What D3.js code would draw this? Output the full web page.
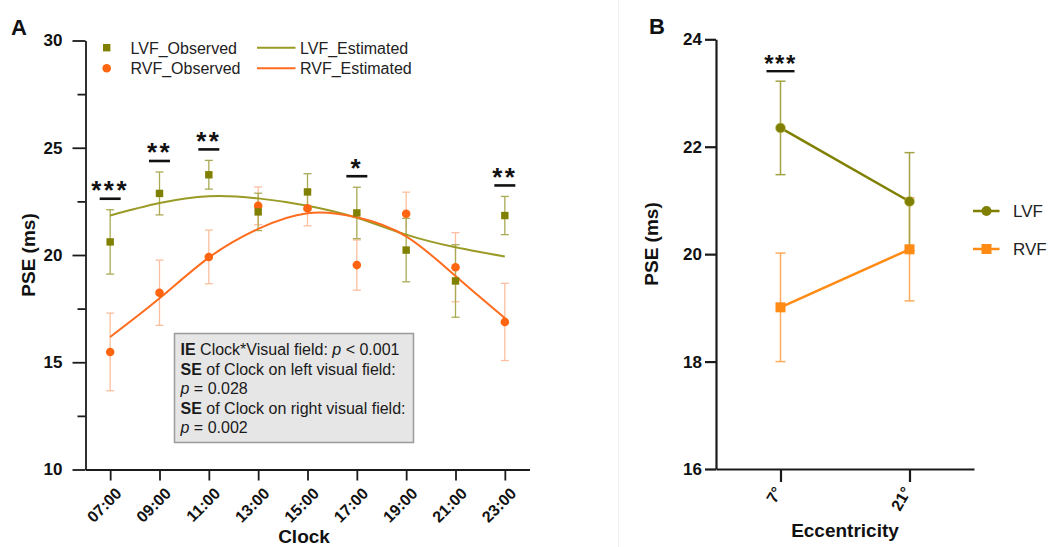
<!DOCTYPE html>
<html>
<head>
<meta charset="utf-8">
<script src="https://cdn.jsdelivr.net/npm/d3@7"></script>
<style>
  html, body { margin: 0; padding: 0; background: #fff; }
  svg { display: block; font-family: "Liberation Sans", Arial, sans-serif; }
</style>
</head>
<body>
<svg id="chart" width="1050" height="547"></svg>
<script>
// ---- Panel A: PSE by clock time ----
const clockLabels = ["07:00", "09:00", "11:00", "13:00", "15:00", "17:00", "19:00", "21:00", "23:00"];
const clockHours = [7, 9, 11, 13, 15, 17, 19, 21, 23];
const lvfObserved = [20.61, 22.87, 23.74, 22.01, 22.94, 21.96, 20.23, 18.79, 21.84];
const lvfObservedSE = [1.50, 1.00, 0.67, 0.87, 0.85, 1.20, 1.48, 1.69, 0.89];
const rvfObserved = [15.48, 18.24, 19.91, 22.29, 22.18, 19.53, 21.92, 19.43, 16.88];
const rvfObservedSE = [1.81, 1.52, 1.25, 0.88, 0.82, 1.17, 1.01, 1.61, 1.80];
const lvfEstimated = [21.84, 22.42, 22.74, 22.64, 22.30, 21.74, 20.95, 20.36, 19.93];
const rvfEstimated = [16.18, 17.98, 19.88, 21.22, 21.95, 21.76, 20.87, 19.02, 17.06];
const clockSignificance = ["***", "**", "**", "", "", "*", "", "", "**"];
const clockMajorTicks = [10, 15, 20, 25, 30];
const clockMinorTicks = [12.5, 17.5, 22.5, 27.5];
const statLines = [
  [["IE", "b"], [" Clock*Visual field: ", ""], ["p", "i"], [" < 0.001", ""]],
  [["SE", "b"], [" of Clock on left visual field:", ""]],
  [["p", "i"], [" = 0.028", ""]],
  [["SE", "b"], [" of Clock on right visual field:", ""]],
  [["p", "i"], [" = 0.002", ""]]
];

// ---- Panel B: PSE by eccentricity ----
const eccLabels = ["7°", "21°"];
const lvfEcc = [22.35, 20.98];
const lvfEccSE = [0.87, 0.91];
const rvfEcc = [19.01, 20.09];
const rvfEccSE = [1.01, 0.96];
const eccSignificance = ["***", ""];
const eccTicks = [16, 18, 20, 22, 24];

const C = {
  olive: "#7f7f00",
  oliveLine: "#9a9a26",
  oliveErr: "#aaaa55",
  orange: "#ff6510",
  orangeLine: "#ff6c1e",
  orangeErr: "#fcbf9f",
  bOrange: "#ff8a14",
  bOrangeErr: "#ffab5c",
  bOliveErr: "#a3a345",
  axis: "#1a1a1a"
};

const svg = d3.select("#chart");

// faint panel divider
svg.append("line").attr("x1", 618.5).attr("x2", 618.5).attr("y1", 0).attr("y2", 547)
  .attr("stroke", "#f1f1f1").attr("stroke-width", 1);

// =================== Panel A ===================
const ax = d3.scaleLinear().domain([6, 24]).range([85.5, 529.5]);
const ay = d3.scaleLinear().domain([10, 30]).range([469.5, 40.5]);
const gA = svg.append("g");

function styleAxis(g, width) {
  g.attr("font-family", null).attr("font-size", null);
  g.selectAll("path.domain").attr("stroke", C.axis).attr("stroke-width", width);
  g.selectAll(".tick line").attr("stroke", C.axis).attr("stroke-width", width);
}

const yAxisA = gA.append("g").attr("transform", `translate(${ax.range()[0]},0)`)
  .call(d3.axisLeft(ay).tickValues(clockMajorTicks).tickSize(13).tickSizeOuter(0).tickPadding(10).tickFormat(d3.format("d")));
styleAxis(yAxisA, 1.8);
yAxisA.selectAll("text").attr("font-size", 17).attr("font-weight", "bold").attr("fill", "#111");

const yMinorA = gA.append("g").attr("transform", `translate(${ax.range()[0]},0)`)
  .call(d3.axisLeft(ay).tickValues(clockMinorTicks).tickSize(8).tickSizeOuter(0).tickFormat(""));
yMinorA.select("path.domain").remove();
styleAxis(yMinorA, 1.8);

const xAxisA = gA.append("g").attr("transform", `translate(0,${ay.range()[0]})`)
  .call(d3.axisBottom(ax).tickValues(clockHours).tickSize(11).tickSizeOuter(0)
    .tickFormat((d, i) => clockLabels[i]));
styleAxis(xAxisA, 1.8);
xAxisA.selectAll("text")
  .attr("font-size", 16).attr("font-weight", "bold").attr("fill", "#111")
  .attr("text-anchor", "end").attr("dy", null).attr("y", null)
  .attr("transform", "translate(12,25) rotate(-45)");

gA.append("text").attr("x", 304).attr("y", 543).attr("text-anchor", "middle")
  .attr("font-size", 19).attr("font-weight", "bold").attr("fill", "#111").text("Clock");
gA.append("text").attr("transform", "translate(35,255) rotate(-90)").attr("text-anchor", "middle")
  .attr("font-size", 19).attr("font-weight", "bold").attr("fill", "#111").text("PSE (ms)");
svg.append("text").attr("x", 11).attr("y", 35).attr("font-size", 22).attr("font-weight", "bold")
  .attr("fill", "#111").text("A");

// error bars
function errorBars(g, xs, means, ses, xScale, yScale, color, capW, sw) {
  const eb = g.append("g").attr("stroke", color).attr("stroke-width", sw).attr("fill", "none");
  means.forEach((m, i) => {
    const x = xScale(xs[i]);
    const y1 = yScale(m - ses[i]), y2 = yScale(m + ses[i]);
    eb.append("line").attr("x1", x).attr("x2", x).attr("y1", y1).attr("y2", y2);
    eb.append("line").attr("x1", x - capW / 2).attr("x2", x + capW / 2).attr("y1", y1).attr("y2", y1);
    eb.append("line").attr("x1", x - capW / 2).attr("x2", x + capW / 2).attr("y1", y2).attr("y2", y2);
  });
}
errorBars(gA, clockHours, rvfObserved, rvfObservedSE, ax, ay, C.orangeErr, 8, 1.3);
errorBars(gA, clockHours, lvfObserved, lvfObservedSE, ax, ay, C.oliveErr, 8, 1.3);

// fitted curves
const fitLine = d3.line().x((d, i) => ax(clockHours[i])).y(d => ay(d)).curve(d3.curveNatural);
gA.append("path").datum(lvfEstimated).attr("d", fitLine).attr("fill", "none")
  .attr("stroke", C.oliveLine).attr("stroke-width", 2);
gA.append("path").datum(rvfEstimated).attr("d", fitLine).attr("fill", "none")
  .attr("stroke", C.orangeLine).attr("stroke-width", 2);

// observed markers
gA.append("g").selectAll("circle").data(rvfObserved).join("circle")
  .attr("cx", (d, i) => ax(clockHours[i])).attr("cy", d => ay(d)).attr("r", 4.3).attr("fill", C.orange);
gA.append("g").selectAll("rect").data(lvfObserved).join("rect")
  .attr("x", (d, i) => ax(clockHours[i]) - 3.7).attr("y", d => ay(d) - 3.7)
  .attr("width", 7.4).attr("height", 7.4).attr("fill", C.olive);

// significance marks above the higher error bar
clockSignificance.forEach((s, i) => {
  if (!s) return;
  const top = Math.max(lvfObserved[i] + lvfObservedSE[i], rvfObserved[i] + rvfObservedSE[i]);
  const x = ax(clockHours[i]);
  const y = ay(top) - 11;
  gA.append("line").attr("x1", x - 10.5).attr("x2", x + 10.5).attr("y1", y).attr("y2", y)
    .attr("stroke", "#111").attr("stroke-width", 2.6);
  gA.append("text").attr("x", x).attr("y", y + 0.5).attr("text-anchor", "middle")
    .attr("font-size", 26).attr("font-weight", "bold").attr("letter-spacing", 2.5).attr("fill", "#111").text(s);
});

// legend A
const legA = gA.append("g").attr("font-size", 16).attr("fill", "#222");
legA.append("rect").attr("x", 103).attr("y", 44).attr("width", 7.4).attr("height", 7.4).attr("fill", C.olive);
legA.append("circle").attr("cx", 106.7).attr("cy", 68.3).attr("r", 4.3).attr("fill", C.orange);
legA.append("text").attr("x", 130.5).attr("y", 53.5).text("LVF_Observed");
legA.append("text").attr("x", 130.5).attr("y", 74).text("RVF_Observed");
legA.append("line").attr("x1", 257).attr("x2", 295.5).attr("y1", 47.7).attr("y2", 47.7)
  .attr("stroke", C.oliveLine).attr("stroke-width", 2);
legA.append("line").attr("x1", 257).attr("x2", 295.5).attr("y1", 68.3).attr("y2", 68.3)
  .attr("stroke", C.orangeLine).attr("stroke-width", 2);
legA.append("text").attr("x", 300).attr("y", 53.5).text("LVF_Estimated");
legA.append("text").attr("x", 300).attr("y", 74).text("RVF_Estimated");

// statistics box
const box = gA.append("g");
box.append("rect").attr("x", 174.5).attr("y", 333.5).attr("width", 239).attr("height", 109)
  .attr("fill", "#e6e6e6").attr("stroke", "#9a9a9a").attr("stroke-width", 1.5);
statLines.forEach((parts, li) => {
  const t = box.append("text").attr("x", 180.5).attr("y", 355 + li * 19.5)
    .attr("font-size", 16).attr("fill", "#1a1a1a");
  parts.forEach(([str, st]) => {
    const sp = t.append("tspan").text(str);
    if (st === "b") sp.attr("font-weight", "bold");
    if (st === "i") sp.attr("font-style", "italic");
  });
});

// =================== Panel B ===================
const bx = d3.scalePoint().domain(eccLabels).range([716, 974]).padding(0.5);
const by = d3.scaleLinear().domain([16, 24]).range([469, 39.3]);
const gB = svg.append("g");

const yAxisB = gB.append("g").attr("transform", `translate(716,0)`)
  .call(d3.axisLeft(by).tickValues(eccTicks).tickSize(11).tickSizeOuter(0).tickPadding(3).tickFormat(d3.format("d")));
styleAxis(yAxisB, 2.2);
yAxisB.selectAll("text").attr("font-size", 17).attr("font-weight", "bold").attr("fill", "#111");

const xAxisB = gB.append("g").attr("transform", `translate(0,469)`)
  .call(d3.axisBottom(bx).tickSize(13).tickSizeOuter(0));
styleAxis(xAxisB, 2.2);
xAxisB.selectAll("text")
  .attr("font-size", 16).attr("font-weight", "bold").attr("fill", "#111")
  .attr("text-anchor", "end").attr("dy", null).attr("y", null)
  .attr("transform", "translate(2,22) rotate(-60)");

gB.append("text").attr("x", 845).attr("y", 537).attr("text-anchor", "middle")
  .attr("font-size", 19).attr("font-weight", "bold").attr("fill", "#111").text("Eccentricity");
gB.append("text").attr("transform", "translate(658,244) rotate(-90)").attr("text-anchor", "middle")
  .attr("font-size", 19).attr("font-weight", "bold").attr("fill", "#111").text("PSE (ms)");
svg.append("text").attr("x", 649).attr("y", 34).attr("font-size", 22).attr("font-weight", "bold")
  .attr("fill", "#111").text("B");

errorBars(gB, eccLabels, rvfEcc, rvfEccSE, bx, by, C.bOrangeErr, 10, 1.5);
errorBars(gB, eccLabels, lvfEcc, lvfEccSE, bx, by, C.bOliveErr, 10, 1.5);

const eccLine = d3.line().x((d, i) => bx(eccLabels[i])).y(d => by(d));
gB.append("path").datum(rvfEcc).attr("d", eccLine).attr("fill", "none")
  .attr("stroke", C.bOrange).attr("stroke-width", 2.5);
gB.append("path").datum(lvfEcc).attr("d", eccLine).attr("fill", "none")
  .attr("stroke", C.olive).attr("stroke-width", 2.5);

gB.append("g").selectAll("rect").data(rvfEcc).join("rect")
  .attr("x", (d, i) => bx(eccLabels[i]) - 5).attr("y", d => by(d) - 5)
  .attr("width", 10).attr("height", 10).attr("fill", C.bOrange);
gB.append("g").selectAll("circle").data(lvfEcc).join("circle")
  .attr("cx", (d, i) => bx(eccLabels[i])).attr("cy", d => by(d)).attr("r", 5)
  .attr("fill", C.olive).attr("stroke", "#c8c870").attr("stroke-width", 0.6);

eccSignificance.forEach((s, i) => {
  if (!s) return;
  const top = Math.max(lvfEcc[i] + lvfEccSE[i], rvfEcc[i] + rvfEccSE[i]);
  const x = bx(eccLabels[i]);
  const y = by(top) - 10;
  gB.append("line").attr("x1", x - 14).attr("x2", x + 14).attr("y1", y).attr("y2", y)
    .attr("stroke", "#111").attr("stroke-width", 2.4);
  gB.append("text").attr("x", x).attr("y", y + 1).attr("text-anchor", "middle")
    .attr("font-size", 24).attr("font-weight", "bold").attr("letter-spacing", 1.5).attr("fill", "#111").text(s);
});

// legend B
const legB = gB.append("g").attr("font-size", 17).attr("fill", "#222");
[[C.olive, "LVF", 211, "circle"], [C.bOrange, "RVF", 249, "rect"]].forEach(([col, lab, y, shape]) => {
  legB.append("line").attr("x1", 973).attr("x2", 999.5).attr("y1", y).attr("y2", y)
    .attr("stroke", col).attr("stroke-width", 2.5);
  if (shape === "circle") legB.append("circle").attr("cx", 986.5).attr("cy", y).attr("r", 5).attr("fill", col);
  else legB.append("rect").attr("x", 981.5).attr("y", y - 5).attr("width", 10).attr("height", 10).attr("fill", col);
  legB.append("text").attr("x", 1013).attr("y", y + 6).text(lab);
});
</script>
</body>
</html>
